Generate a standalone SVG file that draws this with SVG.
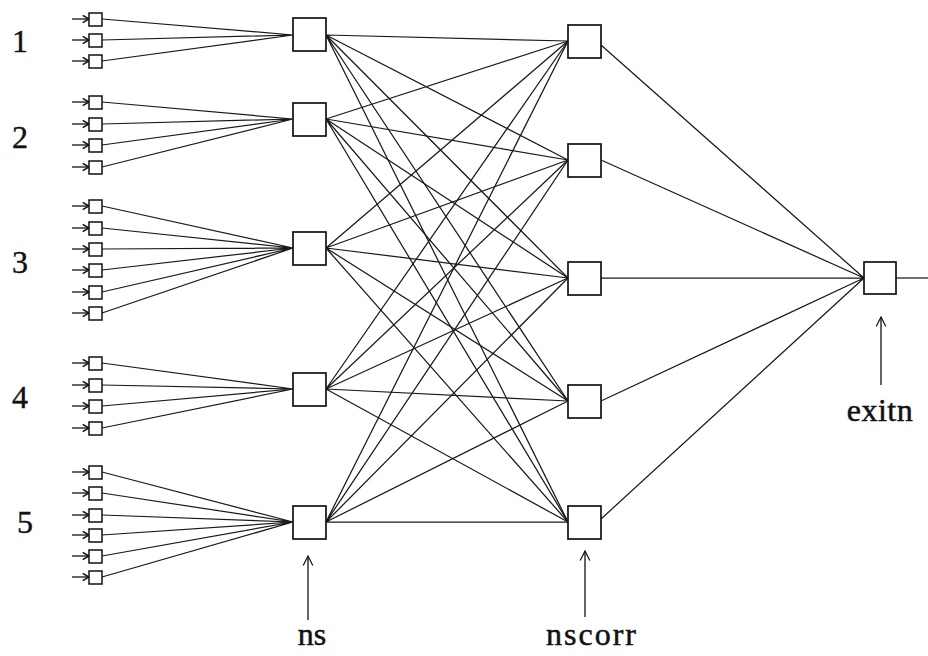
<svg xmlns="http://www.w3.org/2000/svg" width="928" height="656" viewBox="0 0 928 656">
<defs>
<marker id="ah" viewBox="0 0 10 10" refX="9" refY="5" markerWidth="9" markerHeight="9" orient="auto" markerUnits="userSpaceOnUse">
<path d="M2,1 L9,5 L2,9" fill="none" stroke="#111" stroke-width="1.7"/>
</marker>
<marker id="ah2" viewBox="0 0 10 10" refX="9" refY="5" markerWidth="12" markerHeight="12" orient="auto" markerUnits="userSpaceOnUse">
<path d="M1,1 L9,5 L1,9" fill="none" stroke="#111" stroke-width="1"/>
</marker>
</defs>
<style>
.box{fill:#fff;stroke:#111;stroke-width:1.7}
.sbox{fill:#fff;stroke:#111;stroke-width:1.5}
.ln{stroke:#1a1a1a;stroke-width:1.25;fill:none}
.arr{stroke:#111;stroke-width:1.3;fill:none}
.num{font-family:"Liberation Serif","Times New Roman",serif;font-size:32px;fill:#111;stroke:#111;stroke-width:0.4;text-anchor:middle}
.lbl{font-family:"Liberation Serif","Times New Roman",serif;font-size:32px;fill:#111;stroke:#111;stroke-width:0.5;text-anchor:middle}
</style>
<rect width="928" height="656" fill="#fff"/>

<g id="connectors">
<path class="ln" d="M102,19 L293,35 M102,40 L293,35 M102,61 L293,35"/>
<path class="ln" d="M102,102 L293,119 M102,124 L293,119 M102,145 L293,119 M102,167 L293,119"/>
<path class="ln" d="M102,206 L293,248 M102,228 L293,248 M102,249 L293,248 M102,270 L293,248 M102,292 L293,248 M102,313 L293,248"/>
<path class="ln" d="M102,363 L293,389 M102,385 L293,389 M102,406 L293,389 M102,428 L293,389"/>
<path class="ln" d="M102,472 L293,522 M102,493 L293,522 M102,515 L293,522 M102,535 L293,522 M102,556 L293,522 M102,577 L293,522"/>
<path class="ln" d="M326,35 L568,41 M326,35 L568,160 M326,35 L568,278 M326,35 L568,401 M326,35 L568,522"/>
<path class="ln" d="M326,119 L568,41 M326,119 L568,160 M326,119 L568,278 M326,119 L568,401 M326,119 L568,522"/>
<path class="ln" d="M326,248 L568,41 M326,248 L568,160 M326,248 L568,278 M326,248 L568,401 M326,248 L568,522"/>
<path class="ln" d="M326,389 L568,41 M326,389 L568,160 M326,389 L568,278 M326,389 L568,401 M326,389 L568,522"/>
<path class="ln" d="M326,522 L568,41 M326,522 L568,160 M326,522 L568,278 M326,522 L568,401 M326,522 L568,522"/>
<path class="ln" d="M601,45 L864,278 M601,160 L864,278 M601,278 L864,278 M601,401 L864,278 M601,519 L864,278"/>
<path class="ln" d="M896,278 L928,278"/>
<g class="arr" marker-end="url(#ah)">
<path d="M72,19 L89,19"/><path d="M72,40 L89,40"/><path d="M72,61 L89,61"/>
<path d="M72,102 L89,102"/><path d="M72,124 L89,124"/><path d="M72,145 L89,145"/><path d="M72,167 L89,167"/>
<path d="M72,206 L89,206"/><path d="M72,228 L89,228"/><path d="M72,249 L89,249"/><path d="M72,270 L89,270"/><path d="M72,292 L89,292"/><path d="M72,313 L89,313"/>
<path d="M72,363 L89,363"/><path d="M72,385 L89,385"/><path d="M72,406 L89,406"/><path d="M72,428 L89,428"/>
<path d="M72,472 L89,472"/><path d="M72,493 L89,493"/><path d="M72,515 L89,515"/><path d="M72,535 L89,535"/><path d="M72,556 L89,556"/><path d="M72,577 L89,577"/>
</g>
<g class="arr" marker-end="url(#ah2)">
<path d="M308,620 L308,556"/>
<path d="M585,617 L585,551"/>
<path d="M881,385 L881,317"/>
</g>
</g>

<g id="in1">
<rect class="sbox" x="89" y="13" width="13" height="13"/>
<rect class="sbox" x="89" y="34" width="13" height="13"/>
<rect class="sbox" x="89" y="55" width="13" height="13"/>
</g>
<g id="in2">
<rect class="sbox" x="89" y="96" width="13" height="13"/>
<rect class="sbox" x="89" y="118" width="13" height="13"/>
<rect class="sbox" x="89" y="139" width="13" height="13"/>
<rect class="sbox" x="89" y="161" width="13" height="13"/>
</g>
<g id="in3">
<rect class="sbox" x="89" y="200" width="13" height="13"/>
<rect class="sbox" x="89" y="222" width="13" height="13"/>
<rect class="sbox" x="89" y="243" width="13" height="13"/>
<rect class="sbox" x="89" y="264" width="13" height="13"/>
<rect class="sbox" x="89" y="286" width="13" height="13"/>
<rect class="sbox" x="89" y="307" width="13" height="13"/>
</g>
<g id="in4">
<rect class="sbox" x="89" y="357" width="13" height="13"/>
<rect class="sbox" x="89" y="379" width="13" height="13"/>
<rect class="sbox" x="89" y="400" width="13" height="13"/>
<rect class="sbox" x="89" y="422" width="13" height="13"/>
</g>
<g id="in5">
<rect class="sbox" x="89" y="466" width="13" height="13"/>
<rect class="sbox" x="89" y="487" width="13" height="13"/>
<rect class="sbox" x="89" y="509" width="13" height="13"/>
<rect class="sbox" x="89" y="529" width="13" height="13"/>
<rect class="sbox" x="89" y="550" width="13" height="13"/>
<rect class="sbox" x="89" y="571" width="13" height="13"/>
</g>

<g id="labels-groups">
<text class="num" x="20" y="52">1</text>
<text class="num" x="20" y="148">2</text>
<text class="num" x="20" y="273">3</text>
<text class="num" x="20" y="408">4</text>
<text class="num" x="25" y="533">5</text>
</g>

<g id="ns1"><rect class="box" x="293" y="18" width="33" height="33"/></g>
<g id="ns2"><rect class="box" x="293" y="103" width="33" height="33"/></g>
<g id="ns3"><rect class="box" x="293" y="232" width="33" height="33"/></g>
<g id="ns4"><rect class="box" x="293" y="373" width="33" height="33"/></g>
<g id="ns5"><rect class="box" x="293" y="506" width="33" height="33"/></g>

<g id="nscorr1"><rect class="box" x="568" y="25" width="33" height="33"/></g>
<g id="nscorr2"><rect class="box" x="568" y="144" width="33" height="33"/></g>
<g id="nscorr3"><rect class="box" x="568" y="262" width="33" height="33"/></g>
<g id="nscorr4"><rect class="box" x="568" y="385" width="33" height="33"/></g>
<g id="nscorr5"><rect class="box" x="568" y="506" width="33" height="33"/></g>

<g id="exitn"><rect class="box" x="864" y="262" width="32" height="32"/></g>

<g id="axis-labels">
<text class="lbl" x="312" y="645">ns</text>
<text class="lbl" x="592" y="645" letter-spacing="2">nscorr</text>
<text class="lbl" x="880" y="421" letter-spacing="0.5">exitn</text>
</g>
</svg>
